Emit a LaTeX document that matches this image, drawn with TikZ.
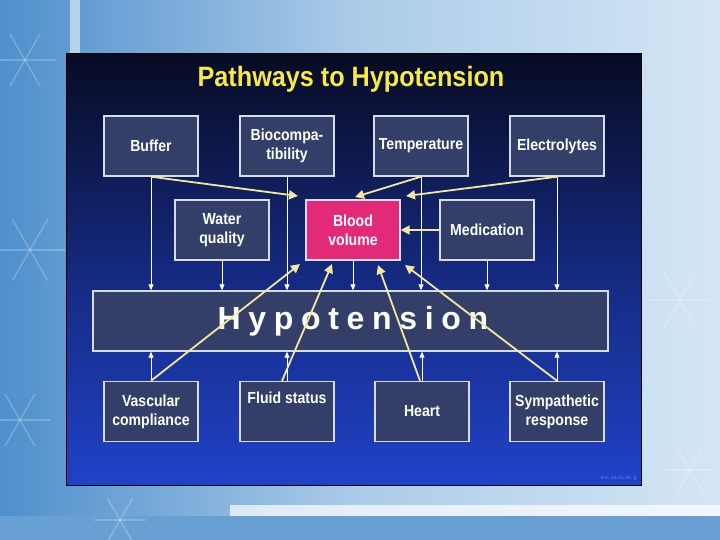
\documentclass[tikz,border=0pt]{standalone}
\usepackage{fontspec}
\setmainfont{Liberation Sans}
\usetikzlibrary{arrows.meta,shadings}
\definecolor{boxfill}{HTML}{333F68}
\definecolor{boxline}{HTML}{D8DCE8}
\definecolor{pinkbox}{HTML}{E22A78}
\definecolor{arrowyel}{HTML}{F2E6A2}
\definecolor{titleyel}{HTML}{F6EA4A}
\definecolor{slidetop}{HTML}{070B22}
\definecolor{slidebot}{HTML}{2042C8}
\definecolor{bgleft}{HTML}{4F8FCC}
\definecolor{bgright}{HTML}{D4E6F5}
\definecolor{footblue}{HTML}{5C88FF}
\tikzset{
  factor/.style={draw=boxline, line width=1.4pt, fill=boxfill, text=white,
    minimum width=94pt, minimum height=60pt, align=center, inner sep=1pt,
    font=\bfseries\fontsize{16}{19}\selectfont\addfontfeature{FakeStretch=0.88}},
  bigbox/.style={factor, minimum width=515pt, minimum height=60pt},
  yarrow/.style={draw=arrowyel, line width=1.8pt, -{Triangle[length=9pt,width=9pt]}},
  warrow/.style={draw=white, line width=0.9pt, -{Triangle[length=6pt,width=5pt]}},
  flake/.style={draw=white, opacity=0.22, line width=1.5pt, line cap=round}
}
\begin{document}
\begin{tikzpicture}[x=1pt,y=-1pt]
\useasboundingbox (0,0) rectangle (720,540);
% background
\shade[left color=bgleft, right color=bgright, middle color=bgright!70!bgleft] (0,0) rectangle (720,540);
\fill[white, opacity=0.55] (70,0) rectangle (80,54);
\fill[white, opacity=0.7] (230,505) rectangle (720,516);
\fill[bgleft!85!white] (0,516) rectangle (720,540);
% a few faint snowflakes
\foreach \cx/\cy/\r in {25/60/30, 30/250/35, 20/420/30, 680/300/30, 120/520/25, 690/470/25} {
  \foreach \a in {0,60,120} {
    \draw[flake] ({\cx+\r*cos(\a)},{\cy+\r*sin(\a)}) -- ({\cx-\r*cos(\a)},{\cy-\r*sin(\a)});
  }
}
% slide panel
\shade[top color=slidetop, bottom color=slidebot, middle color=slidetop!45!slidebot, draw=black, line width=1pt] (66,54) rectangle (641,485);
% title
\node[text=titleyel, font=\bfseries\fontsize{28}{30}\selectfont\addfontfeature{FakeStretch=0.9}] (title) at (351,79) {Pathways to Hypotension};
% boxes
\node[factor] (buffer) at (151,146) {Buffer};
\node[factor] (bio) at (287,146) {Biocompa-\\tibility};
\node[factor] (temp) at (421,146) {Temperature};
\node[factor] (elec) at (557,146) {Electrolytes};
\node[factor] (water) at (222,230) {Water\\quality};
\node[factor, fill=pinkbox] (blood) at (353,230) {Blood\\volume};
\node[factor] (med) at (487,230) {Medication};
\node[bigbox] (hypo) at (350.5,321) {};
\node[text=white, font=\bfseries\fontsize{32}{34}\selectfont\addfontfeature{LetterSpace=24}] (hypotext) at (353,321) {Hypotension};
\node[factor] (vasc) at (151,411.5) {Vascular\\compliance};
\node[factor] (fluid) at (287,411.5) {Fluid status\\[8pt]\mbox{}};
\node[factor] (heart) at (422,411.5) {Heart};
\node[factor] (symp) at (557,411.5) {Sympathetic\\response};
% footnote
\node[text=footblue, font=\fontsize{5}{6}\selectfont, anchor=east] (foot) at (640,478) {Km, 14.01.99, g};
% white vertical arrows into hypotension top
\draw[warrow] (buffer.south) -- (buffer.south |- hypo.north);
\draw[warrow] (water.south) -- (water.south |- hypo.north);
\draw[warrow] (bio.south) -- (bio.south |- hypo.north);
\draw[warrow] (blood.south) -- (blood.south |- hypo.north);
\draw[warrow] (temp.south) -- (temp.south |- hypo.north);
\draw[warrow] (med.south) -- (med.south |- hypo.north);
\draw[warrow] (elec.south) -- (elec.south |- hypo.north);
% white arrows from bottom boxes up to hypotension
\draw[warrow] (vasc.north) -- (vasc.north |- hypo.south);
\draw[warrow] (fluid.north) -- (fluid.north |- hypo.south);
\draw[warrow] (heart.north) -- (heart.north |- hypo.south);
\draw[warrow] (symp.north) -- (symp.north |- hypo.south);
% yellow arrows into blood volume
\coordinate (bTL) at (298,196);
\coordinate (bTM) at (355,197);
\coordinate (bTR) at (406,196);
\coordinate (bBL) at (300,264);
\coordinate (bBM) at (332,264);
\coordinate (bBN) at (378,265);
\coordinate (bBR) at (405,265);
\draw[yarrow] (buffer.south) -- (bTL);
\draw[yarrow] (temp.south) -- (bTM);
\draw[yarrow] (elec.south) -- (bTR);
\draw[yarrow] (med.west) -- (blood.east);
\draw[yarrow] (vasc.north) -- (bBL);
\draw[yarrow] ([xshift=-5pt]fluid.north) -- (bBM);
\draw[yarrow] ([xshift=-2pt]heart.north) -- (bBN);
\draw[yarrow] (symp.north) -- (bBR);
\end{tikzpicture}
\end{document}
